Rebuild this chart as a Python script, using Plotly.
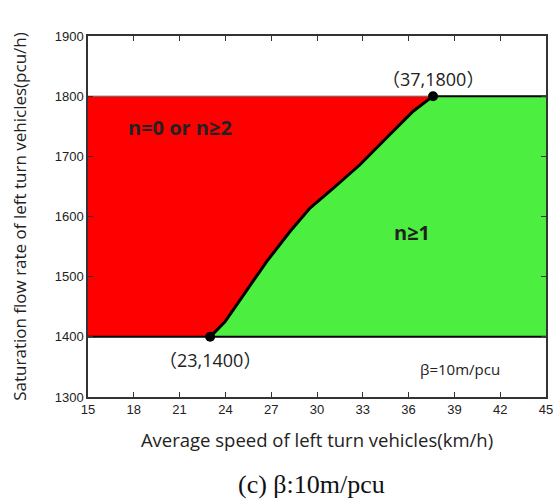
import plotly.graph_objects as go

# Boundary curve (average speed km/h, saturation flow pcu/h)
curve_x = [23.0, 23.97, 25.17, 26.70, 28.23, 29.54, 31.07, 32.81, 34.56, 36.3, 37.6]
curve_y = [1400, 1425, 1469, 1525, 1575, 1614, 1647, 1686, 1731, 1775, 1800]
x_min, x_max = 15, 45
y_low, y_high = 1400, 1800
key_x = [23.0, 37.6]
key_y = [1400, 1800]
key_labels = ["23,1400", "37,1800"]
x_ticks = [15, 18, 21, 24, 27, 30, 33, 36, 39, 42, 45]
y_ticks = [1300, 1400, 1500, 1600, 1700, 1800, 1900]

RED = "#FF0000"
GREEN = "#4CEF40"
TXT = "#222222"
SANS = "Open Sans, Noto Sans CJK SC, sans-serif"
CJK = "font-family:'Noto Sans CJK SC'"


def paren(s):
    return f"<span style=\"{CJK}\">（</span>{s}<span style=\"{CJK}\">）</span>"


fig = go.Figure()

red_x = [x_min] + curve_x + [x_min]
red_y = [y_low] + curve_y + [y_high]
fig.add_trace(go.Scatter(x=red_x, y=red_y, fill="toself", fillcolor=RED,
                         line=dict(width=0), mode="lines", hoverinfo="skip",
                         showlegend=False))
green_x = curve_x + [x_max, x_max]
green_y = curve_y + [y_high, y_low]
fig.add_trace(go.Scatter(x=green_x, y=green_y, fill="toself", fillcolor=GREEN,
                         line=dict(width=0), mode="lines", hoverinfo="skip",
                         showlegend=False))
fig.add_trace(go.Scatter(x=[x_min, x_max], y=[y_low, y_low], mode="lines",
                         line=dict(color="black", width=2), showlegend=False))
fig.add_trace(go.Scatter(x=[x_min, key_x[1]], y=[y_high, y_high], mode="lines",
                         line=dict(color="#666666", width=1), showlegend=False))
fig.add_trace(go.Scatter(x=[key_x[1], x_max], y=[y_high, y_high], mode="lines",
                         line=dict(color="black", width=2), showlegend=False))
fig.add_trace(go.Scatter(x=curve_x, y=curve_y, mode="lines",
                         line=dict(color="black", width=3), showlegend=False))
fig.add_trace(go.Scatter(x=key_x, y=key_y, mode="markers",
                         marker=dict(color="black", size=10), showlegend=False))

ann_font = dict(family=SANS, size=18, color=TXT)
fig.add_annotation(x=key_x[0], y=key_y[0], text=paren(key_labels[0]), showarrow=False,
                   xanchor="center", yanchor="middle", yshift=-22, font=ann_font)
fig.add_annotation(x=key_x[1], y=key_y[1], text=paren(key_labels[1]), showarrow=False,
                   xanchor="center", yanchor="middle", yshift=18, font=ann_font)
fig.add_annotation(x=21.0, y=1748, text="<b>n=0 or n≥2</b>", showarrow=False,
                   font=dict(family=SANS, size=20, color=TXT))
fig.add_annotation(x=36.25, y=1573, text="<b>n≥1</b>", showarrow=False,
                   font=dict(family=SANS, size=20, color=TXT))
fig.add_annotation(x=39.36, y=1347, text="β=10m/pcu", showarrow=False,
                   font=dict(family=SANS, size=15, color=TXT))
fig.add_annotation(xref="paper", yref="paper", x=0.487, y=-0.241,
                   yanchor="middle",
                   text="(c) β:10m/pcu", showarrow=False,
                   font=dict(family="Liberation Serif, Times New Roman, serif", size=26, color="#111111"))

axis_common = dict(showgrid=False, zeroline=False, showline=True, linecolor="#333333",
                   linewidth=1.5, mirror="ticks", ticks="inside", ticklen=5,
                   tickcolor="#333333", automargin=False, ticklabeloverflow="allow",
                   tickfont=dict(family="Liberation Sans, Arial, sans-serif",
                                 size=13, color=TXT))
fig.update_xaxes(range=[x_min, x_max], tickvals=x_ticks,
                 title=dict(text="Average speed of left turn vehicles(km/h)",
                            font=dict(family=SANS, size=18.5, color=TXT),
                            standoff=18),
                 **axis_common)
fig.update_yaxes(range=[1300, 1900], tickvals=y_ticks,
                 title=dict(text="Saturation flow rate of left turn vehicles(pcu/h)",
                            font=dict(family=SANS, size=17, color=TXT),
                            standoff=24),
                 **axis_common)

fig.update_layout(width=553, height=501, plot_bgcolor="white", paper_bgcolor="white",
                  margin=dict(l=88, r=7, t=36, b=104))

fig.write_html("out.html")
